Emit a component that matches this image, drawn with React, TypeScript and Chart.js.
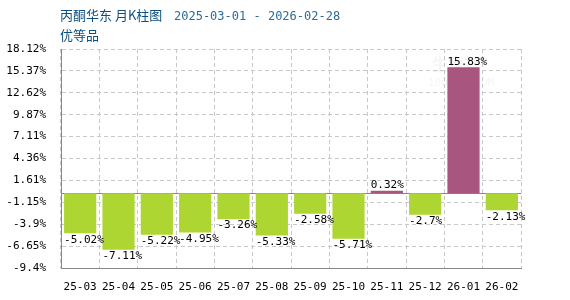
import React, { useEffect, useRef } from "react";
import { Chart, registerables } from "chart.js";

Chart.register(...registerables);

const categories = ["25-03", "25-04", "25-05", "25-06", "25-07", "25-08", "25-09", "25-10", "25-11", "25-12", "26-01", "26-02"];
const values = [-5.02, -7.11, -5.22, -4.95, -3.26, -5.33, -2.58, -5.71, 0.32, -2.7, 15.83, -2.13];
const yTickValues = [18.12, 15.37, 12.62, 9.87, 7.11, 4.36, 1.61, -1.15, -3.9, -6.65, -9.4];
const yTickLabels = ["18.12%", "15.37%", "12.62%", "9.87%", "7.11%", "4.36%", "1.61%", "-1.15%", "-3.9%", "-6.65%", "-9.4%"];
const titleMain = "丙酮华东 月K柱图";
const titleDate = "2025-03-01 - 2026-02-28";
const subTitle = "优等品";

const UP = "#A8557F";
const DOWN = "#ADD633";
const MONO = "'DejaVu Sans Mono', 'Liberation Mono', monospace";
const CJK = "'Noto Sans CJK SC', sans-serif";

export default function App() {
  const ref = useRef<HTMLCanvasElement | null>(null);
  useEffect(() => {
    if (!ref.current) return;
    const overlay = {
      id: "overlay",
      beforeDraw(chart: any) {
        const { ctx } = chart;
        ctx.save();
        ctx.fillStyle = "rgba(200,200,200,0.18)";
        ctx.font = `bold 16px ${CJK}`;
        ctx.fillText("生意社", 432, 70);
        ctx.font = `11px ${MONO}`;
        ctx.fillText("100PPI.COM", 428, 86);
        ctx.restore();
      },
      beforeDatasetsDraw(chart: any) {
        const { ctx, chartArea, scales } = chart;
        const y0 = Math.round(scales.y.getPixelForValue(0)) + 0.5;
        ctx.save();
        ctx.strokeStyle = "#888";
        ctx.lineWidth = 1;
        ctx.beginPath();
        ctx.moveTo(chartArea.left, y0);
        ctx.lineTo(chartArea.right, y0);
        ctx.stroke();
        ctx.restore();
      },
      afterDatasetsDraw(chart: any) {
        const { ctx } = chart;
        const meta = chart.getDatasetMeta(0);
        ctx.save();
        ctx.font = `11px ${MONO}`;
        ctx.fillStyle = "#000";
        ctx.textAlign = "left";
        meta.data.forEach((bar: any, i: number) => {
          const v = values[i];
          const left = bar.x - bar.width / 2;
          const label = v + "%";
          if (v < 0) {
            ctx.textBaseline = "top";
            ctx.fillText(label, left, bar.y + 1);
          } else {
            ctx.textBaseline = "bottom";
            ctx.fillText(label, left, bar.y);
          }
        });
        ctx.textBaseline = "alphabetic";
        ctx.fillStyle = "#0E4F80";
        ctx.font = `13px ${CJK}`;
        ctx.fillText(titleMain, 60, 20);
        ctx.fillStyle = "#2A6B9A";
        ctx.font = `12px ${MONO}`;
        ctx.fillText(titleDate, 174, 20);
        ctx.fillStyle = "#0E4F80";
        ctx.font = `13px ${CJK}`;
        ctx.fillText(subTitle, 60, 40);
        ctx.restore();
      },
    };
    const chart = new Chart(ref.current, {
      type: "bar",
      data: {
        labels: categories,
        datasets: [
          {
            data: values,
            backgroundColor: values.map((v) => (v >= 0 ? UP : DOWN)),
            barPercentage: 0.84,
            categoryPercentage: 1,
          },
        ],
      },
      options: {
        animation: false,
        responsive: false,
        maintainAspectRatio: false,
        layout: { padding: { top: 49, right: 49, left: 0, bottom: 0 } },
        plugins: { legend: { display: false }, tooltip: { enabled: false }, title: { display: false } },
        scales: {
          x: {
            grid: { offset: true, color: "#c8c8c8", drawTicks: false },
            border: { display: true, color: "#888", width: 1, dash: [4, 3] },
            ticks: { color: "#000", font: { family: MONO, size: 11 }, padding: 13, maxRotation: 0 },
            afterFit: (s: any) => {
              s.height = 32;
            },
          },
          y: {
            min: -9.4,
            max: 18.12,
            afterBuildTicks: (s: any) => {
              s.ticks = yTickValues.map((v) => ({ value: v }));
            },
            grid: { color: "#c8c8c8", drawTicks: false },
            border: { display: true, color: "#888", width: 1, dash: [4, 3] },
            ticks: {
              color: "#000",
              font: { family: MONO, size: 11 },
              padding: 15,
              callback: (_v: any, i: number) => yTickLabels[i],
            },
            afterFit: (s: any) => {
              s.width = 61;
            },
          },
        },
      } as any,
      plugins: [overlay],
    });
    return () => chart.destroy();
  }, []);
  return (
    <div style={{ position: "absolute", left: 0, top: 0, width: 570, height: 300 }}>
      <canvas ref={ref} width={570} height={300} style={{ width: 570, height: 300 }} />
    </div>
  );
}
